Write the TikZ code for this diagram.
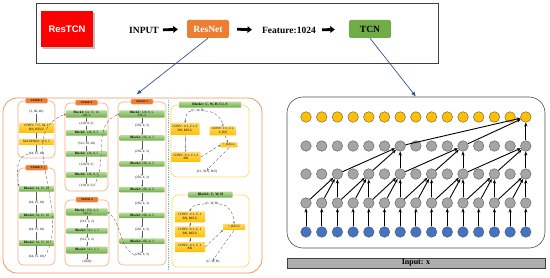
\documentclass[tikz,border=0pt]{standalone}
\usepackage{fontspec}
\setmainfont{Liberation Serif}
\newfontfamily\arialfont{Liberation Sans}
\usepackage{tikz}
\usetikzlibrary{shapes,arrows.meta,positioning,shadows}

\definecolor{rtRed}{HTML}{FF0000}
\definecolor{rtOrange}{HTML}{ED7D31}
\definecolor{rtPeach}{HTML}{F4B183}
\definecolor{rtGreen}{HTML}{70AD47}
\definecolor{rtLgreen}{HTML}{B5DA9A}
\definecolor{rtGold}{HTML}{FFC000}
\definecolor{rtLgold}{HTML}{FFD966}
\definecolor{rtGray}{HTML}{A5A5A5}
\definecolor{rtBlue}{HTML}{4472C4}
\definecolor{rtNavy}{HTML}{2F5597}
\definecolor{rtSky}{HTML}{5BC0DE}

\begin{document}
\begin{tikzpicture}[x=1pt, y=-1pt,
    big/.style={font=\bfseries\fontsize{9.5}{11}\selectfont},
    tiny/.style={font=\fontsize{3.3}{3.7}\selectfont},
    dim/.style={tiny, inner sep=0.3pt},
    stagebox/.style={draw=rtPeach, line width=0.7pt, rounded corners=5pt},
    stagetag/.style={fill=rtOrange, draw=rtPeach, line width=0.3pt, rounded corners=1pt, minimum width=22pt,
      minimum height=5pt, inner sep=0pt, font=\bfseries\fontsize{2.8}{3}\selectfont},
    blk/.style={tiny, top color=rtLgreen, bottom color=rtGreen, rounded corners=0.6pt,
      inner sep=0.5pt, minimum height=5.5pt, align=center},
    conv/.style={tiny, top color=rtLgold, bottom color=rtGold, rounded corners=0.6pt,
      inner sep=0.5pt, align=center},
    frame/.style={draw=rtLgold, line width=0.7pt, rounded corners=6pt},
    flow/.style={-{Stealth[length=1.6pt,width=1.4pt]}, line width=0.35pt, gray!70!black},
    jump/.style={-{Stealth[length=2pt,width=1.8pt]}, densely dashed, line width=0.35pt, gray!70!black},
    unit/.style={circle, draw=black!65, line width=0.4pt, minimum size=10.6pt, inner sep=0pt},
    link/.style={-{Stealth[length=4pt,width=3.2pt]}, line width=0.9pt},
    fat/.style={line width=2.8pt, -{Triangle[length=4.5pt,width=6.5pt]}},
    zoomline/.style={rtNavy, line width=0.7pt, -{Latex[length=5pt,width=4pt]}}]

\useasboundingbox (0,0) rectangle (550,278);

\node[draw=black!75, line width=0.8pt, minimum width=402pt, minimum height=60pt] (topbar) at (237,33) {};
\node[fill=rtRed, text=white, font=\arialfont\bfseries\fontsize{9.5}{11}\selectfont,
  minimum width=52pt, minimum height=36pt, drop shadow] (restcn) at (67,29) {ResTCN};
\node[big, inner sep=0pt] (input) at (144,30) {INPUT};
\node[big, fill=rtOrange, text=white, rounded corners=2pt, minimum width=42pt, minimum height=18pt] (resnet) at (208,29) {ResNet};
\node[big, inner sep=0pt] (feat) at (289,30) {Feature:1024};
\node[big, fill=rtGreen, rounded corners=2pt, minimum width=42pt, minimum height=18pt] (tcn) at (370,29) {TCN};
\draw[fat, shorten <=4pt, shorten >=9pt] (input.east) -- (resnet.west);
\draw[fat, shorten <=8pt, shorten >=10pt] (resnet.east) -- (feat.west);
\draw[fat, shorten <=6pt, shorten >=14pt] (feat.east) -- (tcn.west);

\node[draw=rtOrange!80, line width=0.8pt, rounded corners=14pt, minimum width=259pt, minimum height=175pt] (lpanel) at (132.5,185.5) {};
\draw[rtSky, densely dotted, line width=0.8pt] (168,100) -- (168,271);

\node[stagebox, minimum width=37pt, minimum height=57pt] (stage0) at (36.5,129.5) {};
\node[stagebox, minimum width=37pt, minimum height=97pt] (stage1) at (36.5,216.5) {};
\node[stagebox, minimum width=43pt, minimum height=88pt] (stage2) at (86.5,147) {};
\node[stagebox, minimum width=48pt, minimum height=163pt] (stage3) at (142,183.5) {};
\node[stagebox, minimum width=44pt, minimum height=66pt] (stage4) at (87,233) {};
\foreach \s in {0,...,4}
  \node[stagetag] (tag\s) at (stage\s.north) {STAGE \s};

\node[dim] (s0d0) at (36.5,112) {(3, 60, 40)};
\node[conv, minimum width=35pt, minimum height=10pt] (s0c1) at (36.5,128) {CONV: 7×7, 64, 2\\BN, RELU};
\node[conv, minimum width=35pt, minimum height=6pt] (s0c2) at (36.5,142) {MAXPOOL: 3×3, 2};
\node[dim] (s0d1) at (36.5,154) {(64, 15, 10)};
\draw[flow] (s0d0) -- (s0c1);
\draw[flow] (s0c1) -- (s0c2);
\draw[flow] (s0c2) -- (s0d1);

\foreach \k/\y in {1/189,2/216,3/243} {
  \node[blk, minimum width=35pt] (s1b\k) at (36.5,\y) {\textbf{Block2:} 64, 15, 10};
  \node[dim] (s1d\k) at (36.5,\y+14) {(64, 15, 10)};
  \draw[flow] (s1b\k) -- (s1d\k);
}
\draw[flow] (s1d1) -- (s1b2);
\draw[flow] (s1d2) -- (s1b3);

\node[blk, minimum width=41pt] (s2b1) at (86.5,114) {\textbf{Block1:} 64, 15, 10,\\128, 2};
\node[dim] (s2d1) at (86.5,124) {(128, 8, 5)};
\node[blk, minimum width=41pt] (s2b2) at (86.5,133) {\textbf{Block2:} 128, 8, 5};
\node[dim] (s2d2) at (86.5,144) {(512, 28, 28)};
\node[blk, minimum width=41pt] (s2b3) at (86.5,154) {\textbf{Block2:} 128, 8, 5};
\node[dim] (s2d3) at (86.5,165) {(128, 8, 5)};
\node[blk, minimum width=41pt] (s2b4) at (86.5,175) {\textbf{Block2:} 128, 8, 5};
\node[dim] (s2d4) at (86.5,186) {(128, 8, 5)};
\foreach \a/\b in {s2b1/s2d1,s2d1/s2b2,s2b2/s2d2,s2d2/s2b3,s2b3/s2d3,s2d3/s2b4,s2b4/s2d4}
  \draw[flow] (\a) -- (\b);

\node[blk, minimum width=45pt] (s3b1) at (142,114) {\textbf{Block1:} 128, 8, 5,\\256, 2};
\node[dim] (s3d1) at (142,126) {(256, 4, 3)};
\draw[flow] (s3b1) -- (s3d1);
\foreach \k [evaluate=\k as \y using 138+25.8*(\k-2), evaluate=\k as \p using int(\k-1)] in {2,...,6} {
  \node[blk, minimum width=45pt] (s3b\k) at (142,\y) {\textbf{Block2:} 256, 4, 3};
  \node[dim] (s3d\k) at (142,\y+14) {(256, 4, 3)};
  \draw[flow] (s3d\p) -- (s3b\k);
  \draw[flow] (s3b\k) -- (s3d\k);
}

\node[blk, minimum width=41pt] (s4b1) at (87,212) {\textbf{Block1:} 256, 4, 3,\\512, 2};
\node[dim] (s4d1) at (87,222) {(512, 2, 2)};
\node[blk, minimum width=41pt] (s4b2) at (87,231) {\textbf{Block2:} 512, 2, 2};
\node[dim] (s4d2) at (87,240) {(512, 2, 2)};
\node[blk, minimum width=41pt, minimum height=7pt] (s4b3) at (87,250) {\textbf{Block2:} 512, 2, 2};
\node[dim] (s4d3) at (87,262) {(1024)};
\foreach \a/\b in {s4b1/s4d1,s4d1/s4b2,s4b2/s4d2,s4d2/s4b3,s4b3/s4d3}
  \draw[flow] (\a) -- (\b);

\draw[jump] (s0d1.west) to[out=190,in=100] (s1b1.north west);
\draw[jump] (s1d3.east) to[out=60,in=200] (s2b1.west);
\draw[jump] (s2d4.east) to[out=60,in=200] (s3b1.west);
\draw[jump] (s3d6.west) to[out=150,in=-40] (s4b1.east);

\node[frame, minimum width=78pt, minimum height=72pt] (blk1frame) at (210,141) {};
\node[blk, minimum width=62pt, minimum height=6pt, font=\bfseries\fontsize{3.6}{4}\selectfont] (b1hdr) at (blk1frame.north) {Block1: C, W, H, C1, S};
\node[dim] (b1in) at (198,111) {(C, W, H)};
\node[conv, minimum width=29pt, minimum height=12pt] (b1c1) at (185,129) {CONV: 1×1, C1, S\\BN, RELU};
\node[conv, minimum width=27pt, minimum height=9pt] (b1sc) at (223,131) {CONV: 1×1, C1,\\S, BN};
\node[conv, minimum width=29pt, minimum height=10pt] (b1c2) at (186,157) {CONV: 3×1, C1, S\\BN};
\node[conv, minimum width=17pt, minimum height=5pt] (b1add) at (229,145) {+, RELU};
\node[dim] (b1out) at (207,172) {(C1, W/S, H/S)};
\draw[jump] (b1in.west) to[out=180,in=80] (b1c1.north);
\draw[jump] (b1in.east) to[out=0,in=100] (b1sc.north);
\draw[flow] (b1c1) -- (b1c2);
\draw[jump] (b1c2.east) -- (b1add.west);
\draw[jump] (b1sc) -- (b1add);
\draw[jump] (b1add.south) -- (b1out.north);

\node[frame, minimum width=77pt, minimum height=72pt] (blk2frame) at (210.5,231) {};
\node[blk, minimum width=44pt, minimum height=6pt, font=\bfseries\fontsize{3.6}{4}\selectfont] (b2hdr) at (blk2frame.north) {Block2: C, W, H};
\node[dim] (b2in) at (212,204) {(C, W, H)};
\node[conv, minimum width=30pt, minimum height=11pt] (b2c1) at (190,217) {CONV: 1×1, C, 1\\BN, RELU};
\node[conv, minimum width=30pt, minimum height=11pt] (b2c2) at (190,232) {CONV: 3×1, C, 1\\BN, RELU};
\node[conv, minimum width=30pt, minimum height=10pt] (b2c3) at (190,247) {CONV: 1×1, C, 1\\BN};
\node[conv, minimum width=22pt, minimum height=6pt] (b2add) at (234,227) {+, RELU};
\node[dim] (b2out) at (213,262) {(C, W, H)};
\draw[jump] (b2in.west) to[out=180,in=80] (b2c1.north);
\draw[jump] (b2in.east) to[out=0,in=90] (b2add.north);
\draw[flow] (b2c1) -- (b2c2);
\draw[flow] (b2c2) -- (b2c3);
\draw[jump] (b2c3.east) -- (b2add.south west);
\draw[jump] (b2add.south) -- (b2out.north);

\node[draw=black!70, line width=0.6pt, rounded corners=16pt, minimum width=258pt, minimum height=151pt] (tcnpanel) at (416,172.5) {};
\node[draw=black!75, fill=rtGray!90, minimum width=258pt, minimum height=10pt, inner sep=0pt,
  font=\bfseries\fontsize{8}{9}\selectfont] (inbar) at (416,263) {Input: x};

\foreach \i in {0,...,14} {
  \node[unit, fill=rtGold] (out\i) at (306+15.7*\i,117) {};
  \node[unit, fill=rtGray] (hc\i) at (306+15.7*\i,146) {};
  \node[unit, fill=rtGray] (hb\i) at (306+15.7*\i,174) {};
  \node[unit, fill=rtGray] (ha\i) at (306+15.7*\i,203) {};
  \node[unit, fill=rtBlue] (in\i) at (306+15.7*\i,232) {};
  \draw[link] (in\i) -- (ha\i);
}
\foreach \j [evaluate=\j as \p using int(\j-1), evaluate=\j as \q using int(\j-2)] in {2,4,...,14}
  \path[link] (ha\q) edge (hb\j) (ha\p) edge (hb\j) (ha\j) edge (hb\j);
\foreach \j [evaluate=\j as \p using int(\j-2), evaluate=\j as \q using int(\j-4)] in {6,10,14}
  \path[link] (hb\q) edge (hc\j) (hb\p) edge (hc\j) (hb\j) edge (hc\j);
\path[link] (hc6) edge (out14) (hc10) edge (out14) (hc14) edge (out14);

\draw[zoomline, shorten >=5pt] (resnet.south) -- (lpanel.north);
\draw[zoomline] (tcn.south) -- (tcnpanel.north);
\end{tikzpicture}
\end{document}
